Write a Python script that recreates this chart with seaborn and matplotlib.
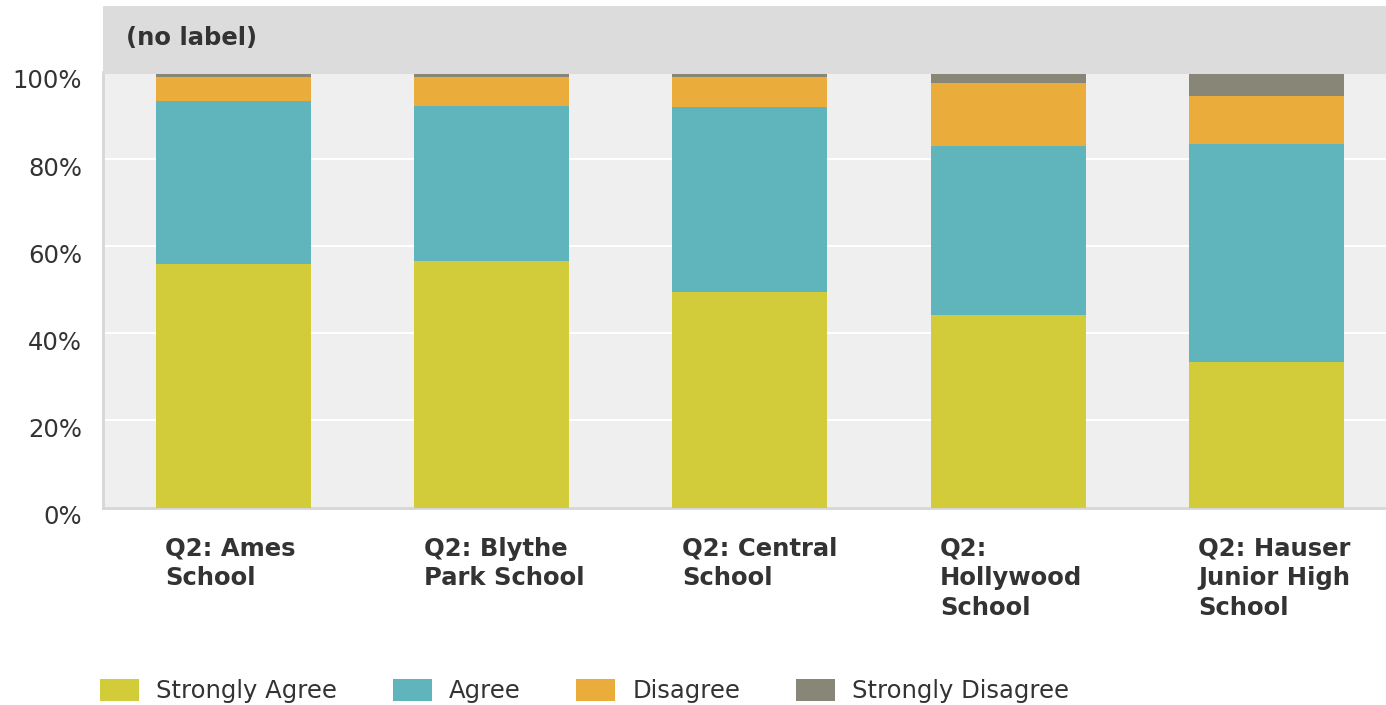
import matplotlib
matplotlib.use("Agg")
import matplotlib.pyplot as plt
import matplotlib.transforms as mtransforms
from matplotlib.patches import Patch
import seaborn as sns
import numpy as np

# data (percent of responses)
schools = ["Q2: Ames School", "Q2: Blythe Park School", "Q2: Central School",
           "Q2: Hollywood School", "Q2: Hauser Junior High School"]
tick_labels = ["Q2: Ames\nSchool", "Q2: Blythe\nPark School", "Q2: Central\nSchool",
               "Q2:\nHollywood\nSchool", "Q2: Hauser\nJunior High\nSchool"]
strongly_agree = [55.8, 56.7, 49.4, 44.3, 33.3]
agree = [37.6, 35.6, 42.5, 38.6, 50.1]
disagree = [5.5, 6.6, 7.0, 14.6, 11.1]
strongly_disagree = [1.1, 1.1, 1.1, 2.5, 5.5]
series_names = ["Strongly Agree", "Agree", "Disagree", "Strongly Disagree"]
y_ticks = [0, 20, 40, 60, 80, 100]
header_text = "(no label)"

colors = ["#d2cc3a", "#60b4bb", "#eaac3a", "#888676"]
text_color = "#333333"

sns.set_style("white")
plt.rcParams["font.family"] = ["DejaVu Sans"]

W, H = 1386, 705
fig = plt.figure(figsize=(W / 100, H / 100), dpi=100)
ax = fig.add_axes([103 / W, 1 - 507.5 / H, 1 - 103 / W, (507.5 - 72) / H])
ax.set_facecolor("#efefef")

bottom = np.zeros(len(schools))
for name, vals, col in zip(series_names,
                           [strongly_agree, agree, disagree, strongly_disagree],
                           colors):
    sns.barplot(x=schools, y=vals, bottom=bottom, color=col, saturation=1,
                width=0.6, linewidth=0, ax=ax, zorder=3)
    bottom = bottom + np.array(vals)

ax.set_xlim(-0.505, 4.463)
ax.set_ylim(0, 100)
ax.set_yticks(y_ticks)
ax.set_yticklabels([f"{t}%" for t in y_ticks])
ax.grid(axis="y", color="white", linewidth=1.5, zorder=0)
ax.grid(axis="x", visible=False)
ax.set_axisbelow(True)
for s in ["top", "right"]:
    ax.spines[s].set_visible(False)
for s in ["left", "bottom"]:
    ax.spines[s].set_color("#d6d6d6")
    ax.spines[s].set_linewidth(2)
ax.tick_params(axis="both", length=0, labelsize=17.5, labelcolor=text_color)
ax.tick_params(axis="y", pad=15)
ax.tick_params(axis="x", pad=21)
ax.set_xlabel("")
ax.set_ylabel("")

ax.set_xticks(range(len(schools)))
ax.set_xticklabels(tick_labels, ha="left", va="top", fontweight="bold",
                   linespacing=1.3)
xshift = mtransforms.ScaledTranslation(-0.68, 0, fig.dpi_scale_trans)
for lab in ax.get_xticklabels():
    lab.set_transform(lab.get_transform() + xshift)
yshift = mtransforms.ScaledTranslation(0, -0.07, fig.dpi_scale_trans)
for lab in ax.get_yticklabels():
    lab.set_transform(lab.get_transform() + yshift)

# grey header band
hax = fig.add_axes([103 / W, 1 - 74 / H, 1 - 103 / W, (74 - 6) / H])
hax.set_facecolor("#dcdcdc")
hax.set_xticks([])
hax.set_yticks([])
for s in hax.spines.values():
    s.set_visible(False)
fig.text(126 / W, 1 - 38 / H, header_text, fontsize=17.5, fontweight="bold",
         color=text_color, va="center", ha="left")

handles = [Patch(facecolor=c, edgecolor="none", label=n)
           for n, c in zip(series_names, colors)]
fig.legend(handles=handles, loc="center left", bbox_to_anchor=(100 / W, 1 - 691 / H),
           ncol=4, frameon=False, fontsize=17.5, handlelength=1.6, handleheight=1.0,
           handletextpad=0.7, columnspacing=2.3, borderpad=0, borderaxespad=0,
           labelcolor=text_color)

fig.savefig("out.png", dpi=100)
